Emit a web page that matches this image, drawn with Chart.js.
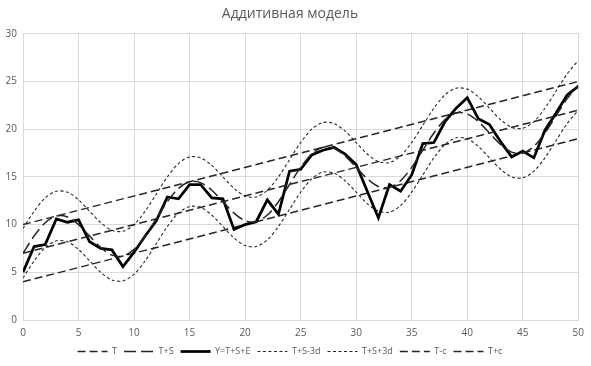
<!DOCTYPE html>
<html>
<head>
<meta charset="utf-8">
<script src="https://cdn.jsdelivr.net/npm/chart.js@4.4.1/dist/chart.umd.min.js"></script>
<style>
  html, body { margin: 0; padding: 0; background: #fff; }
  .chart-box { width: 591px; height: 366px; }
</style>
</head>
<body>
<div class="chart-box"><canvas id="additiveChart"></canvas></div>
<script>
// x values (0..50) and the series
const xs = [0,1,2,3,4,5,6,7,8,9,10,11,12,13,14,15,16,17,18,19,20,21,22,23,24,25,
  26,27,28,29,30,31,32,33,34,35,36,37,38,39,40,41,42,43,44,45,46,47,48,49,50]

// straight trend lines: only the two end points are needed
const trendX = [0, 50]
const trendT = [7, 22]
const trendMinusC = [4, 19]
const trendPlusC = [10, 25]

const trendSeason = [7.0,8.8,10.2,10.9,10.8,10.0,8.8,7.6,6.8,6.7,7.4,8.8,10.6,12.4,13.8,14.5,
  14.4,13.6,12.4,11.2,10.4,10.3,11.0,12.4,14.2,16.0,17.4,18.1,18.0,17.2,16.0,14.8,14.0,13.9,
  14.6,16.0,17.8,19.6,21.0,21.7,21.6,20.8,19.6,18.4,17.6,17.5,18.2,19.6,21.4,23.2,24.6]

const observed = [5.0,7.7,7.9,10.6,10.25,10.5,8.2,7.5,7.35,5.6,7.1,8.8,10.4,12.9,12.7,14.2,
  14.2,12.8,12.7,9.5,10.0,10.3,12.6,11.1,15.6,15.8,17.3,17.8,18.1,17.4,16.3,13.5,10.7,14.2,
  13.5,15.2,18.5,18.6,20.8,22.2,23.3,21.1,20.5,18.7,17.1,17.7,17.0,19.9,21.7,23.6,24.5]

const lowerBand = [4.4,6.2,7.6,8.3,8.2,7.4,6.2,5.0,4.2,4.1,4.8,6.2,8.0,9.8,11.2,11.9,11.8,
  11.0,9.8,8.6,7.8,7.7,8.4,9.8,11.6,13.4,14.8,15.5,15.4,14.6,13.4,12.2,11.4,11.3,12.0,13.4,
  15.2,17.0,18.4,19.1,19.0,18.2,17.0,15.8,15.0,14.9,15.6,17.0,18.8,20.6,22.0]

const upperBand = [9.6,11.4,12.8,13.5,13.4,12.6,11.4,10.2,9.4,9.3,10.0,11.4,13.2,15.0,16.4,
  17.1,17.0,16.2,15.0,13.8,13.0,12.9,13.6,15.0,16.8,18.6,20.0,20.7,20.6,19.8,18.6,17.4,16.6,
  16.5,17.2,18.6,20.4,22.2,23.6,24.3,24.2,23.4,22.2,21.0,20.2,20.1,20.8,22.2,24.0,25.8,27.2]

const toPoints = (xv, yv) => xv.map((x, i) => ({ x: x, y: yv[i] }))

const gray = '#595959'
const font = "'Open Sans', 'Liberation Sans', sans-serif"

const line = (label, xv, yv, width, dash, color, tension) => ({
  label: label,
  data: toPoints(xv, yv),
  borderColor: color,
  backgroundColor: color,
  borderWidth: width,
  borderDash: dash,
  pointRadius: 0,
  tension: tension || 0,
  fill: false
})

const config = {
  type: 'line',
  data: {
    datasets: [
      line('T', trendX, trendT, 1.5, [8, 4], '#262626'),
      line('T+S', xs, trendSeason, 1.5, [12, 5], '#262626', 0.3),
      line('Y=T+S+E', xs, observed, 2.75, [], '#000000'),
      line('T+S-3d', xs, lowerBand, 1.1, [3, 2.5], '#262626', 0.3),
      line('T+S+3d', xs, upperBand, 1.1, [3, 2.5], '#262626', 0.3),
      line('T-c', trendX, trendMinusC, 1.5, [8, 4], '#262626'),
      line('T+c', trendX, trendPlusC, 1.5, [8, 4], '#262626')
    ]
  },
  options: {
    responsive: true,
    maintainAspectRatio: false,
    animation: false,
    layout: { padding: { left: 0, right: 11, top: 0, bottom: 0 } },
    scales: {
      x: {
        type: 'linear',
        min: 0,
        max: 50,
        ticks: { stepSize: 5, color: gray, font: { size: 10, family: font }, padding: 7 },
        grid: { color: '#d9d9d9', drawTicks: false },
        border: { color: '#d9d9d9' },
        afterFit: scale => { scale.height = 20 }
      },
      y: {
        min: 0,
        max: 30,
        ticks: { stepSize: 5, color: gray, font: { size: 10, family: font }, padding: 6 },
        grid: { color: '#d9d9d9', drawTicks: false },
        border: { display: false },
        afterFit: scale => { scale.width = 23 }
      }
    },
    plugins: {
      title: {
        display: true,
        text: 'Аддитивная модель',
        color: gray,
        font: { size: 14, family: font, weight: 'normal' },
        padding: { top: 6, bottom: 11 }
      },
      legend: {
        position: 'bottom',
        labels: {
          usePointStyle: true,
          pointStyle: 'line',
          pointStyleWidth: 30,
          boxHeight: 6,
          color: gray,
          font: { size: 9, family: font },
          padding: 7,
          // the default labels drop the dash pattern, so copy it from the dataset
          generateLabels: chart => Chart.defaults.plugins.legend.labels.generateLabels(chart).map(item => {
            const ds = chart.data.datasets[item.datasetIndex]
            item.lineDash = ds.borderDash
            item.lineWidth = ds.borderWidth
            item.strokeStyle = ds.borderColor
            return item
          })
        }
      },
      tooltip: { enabled: false }
    }
  }
}

new Chart(document.querySelector('#additiveChart'), config)
</script>
</body>
</html>
